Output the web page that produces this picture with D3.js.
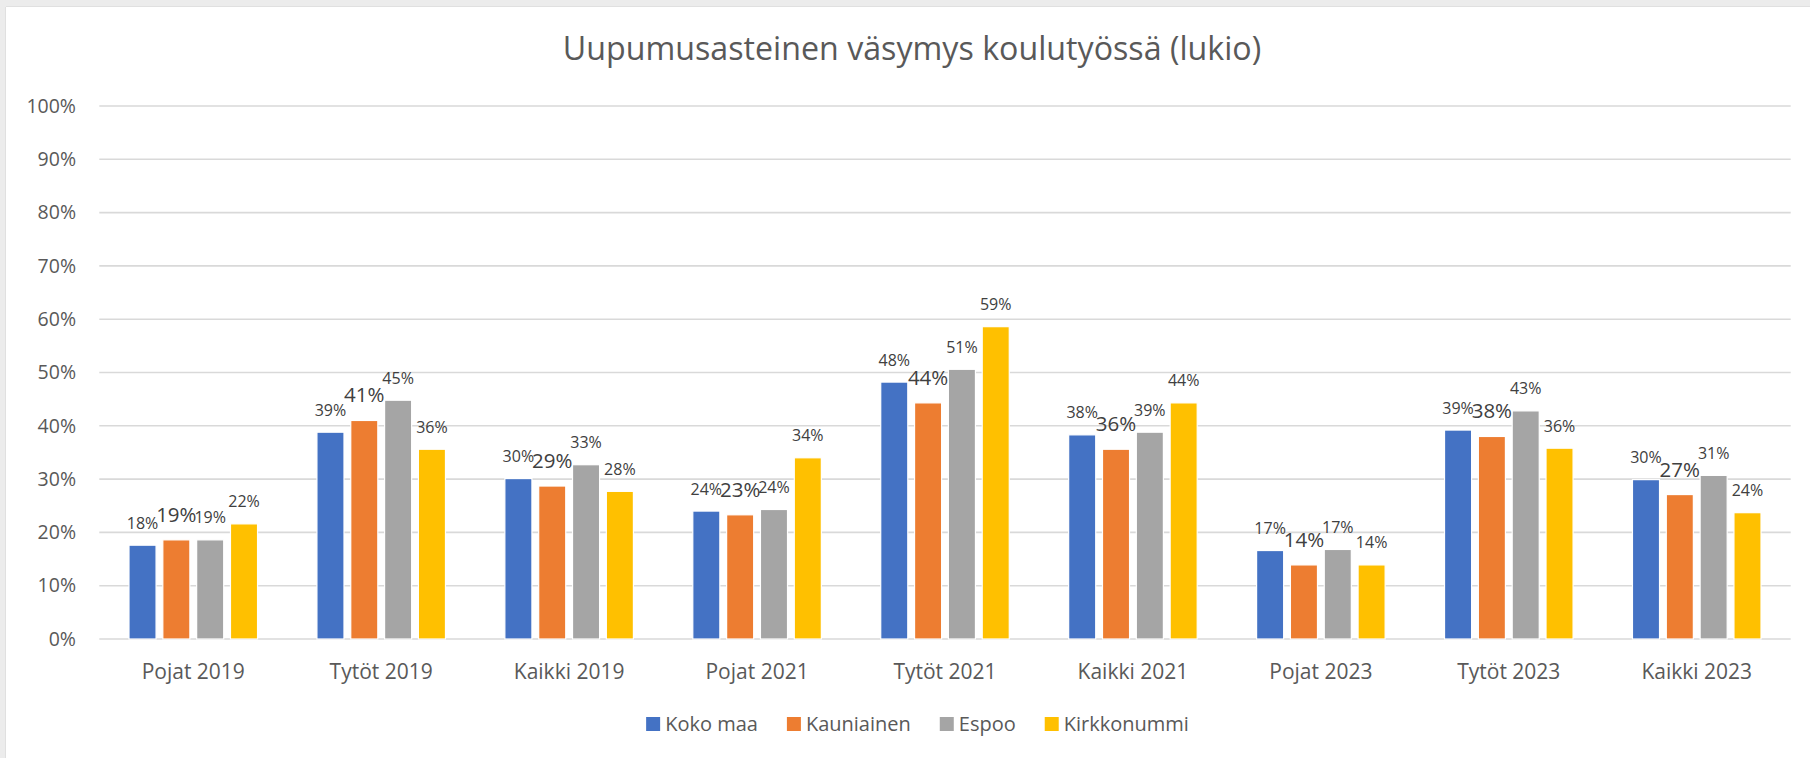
<!DOCTYPE html>
<html><head><meta charset="utf-8">
<script src="https://cdn.jsdelivr.net/npm/d3@7"></script>
<style>
html,body{margin:0;padding:0;background:#ececec;}
svg{display:block;}
text{font-family:"Segoe UI","Open Sans","Noto Sans",sans-serif;}
</style></head>
<body>
<svg id="chart" width="1810" height="758"></svg>
<script>
const categories = ["Pojat 2019","Tytöt 2019","Kaikki 2019","Pojat 2021","Tytöt 2021","Kaikki 2021","Pojat 2023","Tytöt 2023","Kaikki 2023"];
const seriesNames = ["Koko maa","Kauniainen","Espoo","Kirkkonummi"];
const kokoMaa     = [0.176,0.388,0.301,0.240,0.482,0.383,0.166,0.392,0.299];
const kauniainen  = [0.186,0.410,0.287,0.233,0.443,0.356,0.139,0.380,0.271];
const espoo       = [0.186,0.448,0.327,0.243,0.506,0.388,0.168,0.428,0.307];
const kirkkonummi = [0.216,0.356,0.277,0.340,0.586,0.443,0.139,0.358,0.237];
const yTicks = [0,0.1,0.2,0.3,0.4,0.5,0.6,0.7,0.8,0.9,1.0];
const colors = ["#4472c4","#ed7d31","#a5a5a5","#ffc000"];
const title = "Uupumusasteinen väsymys koulutyössä (lukio)";

const seriesValues = [kokoMaa,kauniainen,espoo,kirkkonummi];
const svg = d3.select("#chart");

// chart area (white) with light frame
svg.append("rect").attr("x",6).attr("y",7).attr("width",1804).attr("height",751).attr("fill","#ffffff");
svg.append("line").attr("x1",5.5).attr("x2",5.5).attr("y1",7).attr("y2",758).attr("stroke","#e0e0e0");
svg.append("line").attr("x1",6).attr("x2",1810).attr("y1",6.5).attr("y2",6.5).attr("stroke","#e0e0e0");

const x0 = d3.scaleBand().domain(categories).range([99.3,1790.7]).padding(0);
const bw = x0.bandwidth();
const x1 = d3.scaleBand().domain(seriesNames).range([bw*0.158,bw*0.842]).paddingInner(0.2).paddingOuter(0);
const y = d3.scaleLinear().domain([0,1]).range([639,106]);
const color = d3.scaleOrdinal().domain(seriesNames).range(colors);
const fmt = d3.format(".0%");

// title
svg.append("text").attr("x",912).attr("y",60).attr("text-anchor","middle")
  .attr("font-size",32.2).attr("fill","#595959").text(title);

// gridlines
svg.append("g").selectAll("line").data(yTicks).join("line")
  .attr("x1",99.3).attr("x2",1790.7)
  .attr("y1",d=>y(d)).attr("y2",d=>y(d))
  .attr("stroke","#d9d9d9").attr("stroke-width",1.6);

// y axis labels
const yAxis = d3.axisLeft(y).tickValues(yTicks).tickFormat(d3.format(".0%")).tickSize(0).tickPadding(0);
const gy = svg.append("g").attr("transform","translate(76,0)").call(yAxis);
gy.select(".domain").remove();
gy.selectAll("text").attr("font-size",19.5).attr("fill","#595959").attr("font-family",null);

// x axis labels
const xAxis = d3.axisBottom(x0).tickSize(0).tickPadding(0);
const gx = svg.append("g").attr("transform","translate(0,660)").call(xAxis);
gx.select(".domain").remove();
gx.selectAll("text").attr("font-size",21).attr("fill","#595959").attr("font-family",null).attr("dy","0.9em");

// bars
const rows = categories.map((c,i)=>({cat:c, vals:seriesNames.map((s,j)=>({s, j, v:seriesValues[j][i]}))}));
const groups = svg.append("g").selectAll("g").data(rows).join("g")
  .attr("transform",d=>`translate(${x0(d.cat)},0)`);
groups.selectAll("rect").data(d=>d.vals).join("rect")
  .attr("x",d=>x1(d.s)).attr("width",x1.bandwidth())
  .attr("y",d=>y(d.v)).attr("height",d=>y(0)-y(d.v))
  .attr("fill",d=>color(d.s)).attr("stroke","#ffffff").attr("stroke-width",1.2);
groups.selectAll("text").data(d=>d.vals).join("text")
  .attr("x",d=>x1(d.s)+x1.bandwidth()/2)
  .attr("y",d=>y(d.v)-(d.j===1?18:16.5))
  .attr("text-anchor","middle")
  .attr("font-size",d=>d.j===1?20.5:16)
  .attr("fill","#404040")
  .text(d=>fmt(d.v));

// legend
const leg = svg.append("g");
const items = leg.selectAll("g").data(seriesNames).join("g");
items.append("rect").attr("width",14).attr("height",14).attr("y",-7).attr("fill",d=>color(d));
items.append("text").attr("x",19).attr("y",0).attr("dy","0.35em").attr("font-size",20).attr("fill","#595959").text(d=>d);
let cx = 0;
items.each(function(){
  const w = this.getBBox().width;
  d3.select(this).attr("transform",`translate(${cx},0)`);
  cx += w + 29;
});
const total = cx - 29;
leg.attr("transform",`translate(${917.5-total/2},724)`);
</script>
</body></html>
